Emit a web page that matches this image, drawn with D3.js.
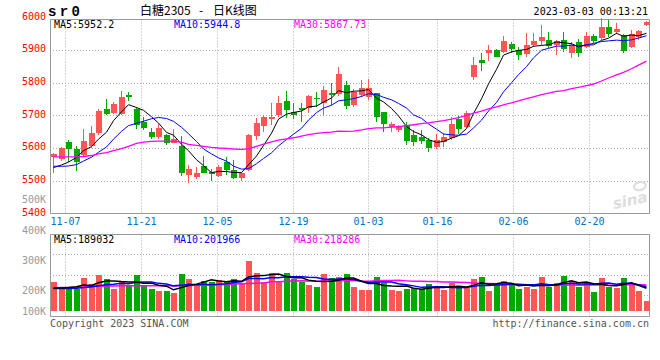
<!DOCTYPE html>
<html><head><meta charset="utf-8">
<script src="https://cdn.jsdelivr.net/npm/d3@7"></script>
<style>
body{margin:0;background:#fff}
svg{display:block}
text{font-family:"DejaVu Sans Mono",monospace;font-size:10px}
</style>
</head><body><svg id="c" width="660" height="360"></svg>
<script>
// ---------------- data ----------------
const dates = ["11-03","11-04","11-07","11-08","11-09","11-10","11-11","11-14","11-15","11-16","11-17","11-18",
"11-21","11-22","11-23","11-24","11-25","11-28","11-29","11-30","12-01","12-02",
"12-05","12-06","12-07","12-08","12-09","12-12","12-13","12-14","12-15","12-16",
"12-19","12-20","12-21","12-22","12-23","12-26","12-27","12-28","12-29","12-30",
"01-03","01-04","01-05","01-06","01-09","01-10","01-11","01-12","01-13",
"01-16","01-17","01-18","01-19","01-20","01-30","01-31","02-01","02-02","02-03",
"02-06","02-07","02-08","02-09","02-10","02-13","02-14","02-15","02-16","02-17",
"02-20","02-21","02-22","02-23","02-24","02-27","02-28","03-01","03-02"];
const opens  = [5571,5565,5618,5596,5579,5607,5645,5719,5706,5704,5761,5719,5680,5650,5635,5640,5616,5606,5517,5510,
5545,5527,5514,5558,5533,5507,5533,5637,5667,5690,5701,5744,5711,5723,5721,5754,5737,5768,5764,5793,
5732,5762,5757,5767,5711,5665,5655,5670,5640,5635,5624,5602,5619,5630,5689,5665,5818,5869,5892,5900,
5895,5917,5900,5887,5915,5928,5931,5915,5931,5892,5923,5910,5944,5936,5971,5956,5946,5910,5939,5977];
const highs  = [5586,5604,5626,5606,5658,5667,5720,5750,5742,5774,5770,5726,5696,5660,5672,5643,5657,5637,5548,5543,
5575,5535,5547,5573,5562,5528,5643,5691,5701,5737,5759,5774,5737,5739,5762,5772,5790,5800,5847,5806,
5782,5808,5810,5767,5711,5680,5670,5680,5655,5655,5630,5643,5645,5694,5698,5714,5880,5890,5915,5902,
5943,5923,5910,5953,5953,5976,5955,5930,5956,5925,5935,5956,5950,5997,5992,5982,5950,5960,5962,5990];
const lows   = [5522,5560,5558,5531,5575,5600,5640,5700,5703,5701,5745,5657,5655,5627,5629,5610,5614,5514,5494,5505,
5522,5500,5510,5517,5505,5500,5530,5624,5650,5670,5694,5691,5688,5680,5706,5726,5701,5732,5760,5719,
5725,5757,5747,5680,5650,5650,5650,5609,5606,5612,5589,5596,5604,5625,5643,5660,5808,5836,5866,5878,
5890,5890,5869,5880,5910,5915,5905,5885,5895,5875,5880,5905,5920,5930,5940,5950,5890,5905,5930,5972];
const closes = [5582,5600,5596,5558,5621,5647,5713,5703,5734,5756,5757,5670,5660,5635,5660,5614,5627,5522,5535,5522,
5524,5520,5541,5533,5507,5522,5640,5675,5694,5696,5737,5716,5701,5716,5759,5750,5777,5763,5828,5729,
5772,5783,5783,5696,5672,5672,5667,5622,5619,5622,5599,5624,5635,5672,5658,5708,5854,5861,5900,5880,
5927,5902,5885,5914,5928,5941,5913,5927,5902,5915,5890,5944,5928,5970,5949,5964,5898,5949,5958,5987];
const volumes = [228400,207600,209600,204300,241600,221800,251500,238300,205300,231700,
216200,251500,218500,205300,198700,198700,192100,254800,238300,222800,
231700,229400,235000,228400,238300,222800,298700,258100,229400,258100,
229400,258100,238300,228400,218500,211900,254800,241600,244900,254800,
211900,202000,202000,244900,225100,202000,198700,205300,209600,205300,
221800,211900,202000,224100,212900,208600,238300,244900,198700,221800,
231700,222800,205300,211900,205300,244900,211900,225100,248200,231700,
212900,224100,195400,241600,211900,208600,241600,225100,198700,165700];
const ma5Head  = [5540,5548,5557,5571];
const ma10Head = [5544,5544,5545,5549,5560,5572,5587,5603,5627];
const ma30Head = [5573,5573,5573,5573,5574,5577,5582,5586,5592,5598,5605,5614,5618,5620,5621,5621,5620,5618,
5611,5608,5605,5602,5600,5599,5597,5596,5597,5605,5612];
const vma5Head  = [208000,209000,210000,213000];
const vma10Head = [207000,207000,207000,208000,210000,213000,216000,219000,221000];
const vma30Head = [209500,210000,210500,211000,212000,213000,214000,215000,215500,216000,216000,216000,216000,
216000,216000,216000,216000,216500,217000,217500,218000,218500,219500,220500,221500,222500,223500,224500,225500];
const priceTicks = [6000,5900,5800,5700,5600,5500,5400];
const priceGrid  = [5900,5800,5700,5600,5500];
const volTicks = [500000,400000,300000,200000,100000];
const volTickLabels = ["500K","400K","300K","200K","100K"];
const xTickDates = ["11-07","11-21","12-05","12-19","01-03","01-16","02-06","02-20"];
const legendMain = ["MA5:5952.2","MA10:5944.8","MA30:5867.73"];
const legendVol  = ["MA5:189032","MA10:201966","MA30:218286"];
const legendColors = ["#000000","#0000ff","#ff00ff"];
const symbolText = "sr0";
const titleParts = ["白糖2305","-","日K线图"];
const timeText = "2023-03-03 00:13:21";
const copyText = "Copyright 2023 SINA.COM";
const urlText = "http://finance.sina.com.cn";

// ---------------- helpers ----------------
function movingAvg(vals, n, head){
  return vals.map((v,i)=> i < n-1 ? head[i] : d3.mean(vals.slice(i-n+1,i+1)));
}
const RED="#ff5555", GREEN="#00a800", GRID="#aaaaaa", FRAME="#999999";
const L=50, R=650, mainTop=19.5, mainBot=213.5, volTop=234.5, volBot=316.5;

const svg = d3.select("#c");
const xBand = d3.scaleBand().domain(dates).range([L,R]);
const xGrid = d3.scalePoint().domain(dates).range([L,R]);
const yP = d3.scaleLinear().domain([5400,6000]).range([213.33,17.33]);
const yV = d3.scaleLinear().domain([132700,500000]).range([311,199.7]).clamp(true);
const bodyW = Math.round(xBand.bandwidth()*0.8);
const left = d => Math.round(xBand(d));
const cx = d => left(d)+3.5;

// ---------------- grid ----------------
const g = svg.append("g");
g.selectAll(".hg").data(priceGrid).join("line")
  .attr("x1",L).attr("x2",R).attr("y1",d=>Math.round(yP(d))+0.5).attr("y2",d=>Math.round(yP(d))+0.5)
  .attr("stroke",GRID).attr("stroke-dasharray","1,2");
g.selectAll(".vg").data(xTickDates).join("line")
  .attr("x1",d=>Math.floor(xGrid(d))+0.5).attr("x2",d=>Math.floor(xGrid(d))+0.5)
  .attr("y1",mainTop).attr("y2",mainBot).attr("stroke",GRID).attr("stroke-dasharray","1,2");
const volGridY = [254.5,275.5,295.5];
g.selectAll(".hvg").data(volGridY).join("line")
  .attr("x1",L).attr("x2",R).attr("y1",d=>d).attr("y2",d=>d)
  .attr("stroke",GRID).attr("stroke-dasharray","1,2");
g.selectAll(".vvg").data(xTickDates).join("line")
  .attr("x1",d=>Math.floor(xGrid(d))+0.5).attr("x2",d=>Math.floor(xGrid(d))+0.5)
  .attr("y1",volTop).attr("y2",volBot).attr("stroke",GRID).attr("stroke-dasharray","1,2");

// watermark
const wm = svg.append("g").attr("transform","translate(614,209) rotate(-12)");
wm.append("text").attr("x",0).attr("y",0).text("sina")
  .style("font-family","Verdana, DejaVu Sans, sans-serif").style("font-size","15px")
  .style("font-weight","bold").style("font-style","italic").attr("fill","#dddddd");
wm.append("ellipse").attr("cx",30).attr("cy",-17).attr("rx",6).attr("ry",4)
  .attr("fill","none").attr("stroke","#dddddd").attr("stroke-width",2);

// frames
svg.append("path").attr("d",`M${L+0.5},${mainTop}H${R-0.5}V${mainBot}H${L+0.5}Z`)
  .attr("fill","none").attr("stroke",FRAME);
svg.append("path").attr("d",`M${L+0.5},${volTop}H${R-0.5}V${volBot}H${L+0.5}Z`)
  .attr("fill","none").attr("stroke",FRAME);

// ---------------- candles ----------------
const candles = dates.map((d,i)=>({d,o:opens[i],h:highs[i],l:lows[i],c:closes[i],v:volumes[i]}));
const col = k => k.c >= k.o ? RED : GREEN;
const cg = svg.append("g").attr("shape-rendering","crispEdges");
cg.selectAll(".wick").data(candles).join("line")
  .attr("x1",k=>cx(k.d)).attr("x2",k=>cx(k.d))
  .attr("y1",k=>Math.round(yP(k.h))).attr("y2",k=>Math.round(yP(k.l)))
  .attr("stroke",col);
cg.selectAll(".body").data(candles).join("rect")
  .attr("x",k=>left(k.d)+0.5).attr("width",bodyW)
  .attr("y",k=>Math.round(yP(Math.max(k.o,k.c))))
  .attr("height",k=>Math.max(1,Math.round(yP(Math.min(k.o,k.c)))-Math.round(yP(Math.max(k.o,k.c)))))
  .attr("fill",col);

// MA lines main
const maLine = d3.line().x((v,i)=>cx(dates[i])).y(v=>yP(v));
[[movingAvg(closes,5,ma5Head),0],[movingAvg(closes,10,ma10Head),1],[movingAvg(closes,30,ma30Head),2]]
  .forEach(([arr,k])=>{
    svg.append("path").attr("d",maLine(arr)).attr("fill","none")
      .attr("stroke",legendColors[k]).attr("stroke-width",k===2?1.3:1);
  });

// ---------------- volume ----------------
const vg = svg.append("g").attr("shape-rendering","crispEdges");
vg.selectAll(".vb").data(candles).join("rect")
  .attr("x",k=>left(k.d)+0.5).attr("width",bodyW)
  .attr("y",k=>Math.round(yV(k.v))).attr("height",k=>311-Math.round(yV(k.v)))
  .attr("fill",col);
const vLine = d3.line().x((v,i)=>cx(dates[i])).y(v=>yV(v));
[[movingAvg(volumes,30,vma30Head),2],[movingAvg(volumes,10,vma10Head),1],[movingAvg(volumes,5,vma5Head),0]]
  .forEach(([arr,k])=>{
    svg.append("path").attr("d",vLine(arr)).attr("fill","none")
      .attr("stroke",legendColors[k]).attr("stroke-width",1.5);
  });

// ---------------- texts ----------------
svg.selectAll(".pt").data(priceTicks).join("text")
  .attr("x",46).attr("y",d=>yP(d)+2.3).attr("text-anchor","end").attr("fill","#ff0000").text(d=>d);
svg.selectAll(".vt").data(volTicks).join("text")
  .attr("x",46).attr("y",d=>yV(d)+3.6).attr("text-anchor","end").attr("fill","#999999")
  .text((d,i)=>volTickLabels[i]);
svg.selectAll(".xt").data(xTickDates).join("text")
  .attr("x",d=>Math.floor(xGrid(d))+0.5).attr("y",225.3).attr("text-anchor","middle")
  .attr("fill","#0070c8").text(d=>d);
svg.selectAll(".lm").data(legendMain).join("text")
  .attr("x",(d,i)=>54+i*120).attr("y",27.6).attr("fill",(d,i)=>legendColors[i]).text(d=>d);
svg.selectAll(".lv").data(legendVol).join("text")
  .attr("x",(d,i)=>54+i*120).attr("y",242.6).attr("fill",(d,i)=>legendColors[i]).text(d=>d);
svg.append("text").attr("x",48).attr("y",15.5).text(symbolText)
  .style("font-family","Liberation Mono, monospace").style("font-size","14px").style("font-weight","bold")
  .style("letter-spacing","3.4px");
const title = svg.append("text").attr("y",15)
  .style("font-family","Noto Sans CJK SC, sans-serif").style("font-size","12px");
const titleX = [140,199,213];
title.selectAll("tspan").data(titleParts).join("tspan").attr("x",(d,i)=>titleX[i]).text(d=>d);
svg.append("text").attr("x",648).attr("y",15).attr("text-anchor","end").text(timeText);
svg.append("text").attr("x",50).attr("y",327.3).attr("fill","#555555").text(copyText);
svg.append("text").attr("x",649).attr("y",327.3).attr("text-anchor","end").attr("fill","#555555").text(urlText);
</script>
</body></html>
